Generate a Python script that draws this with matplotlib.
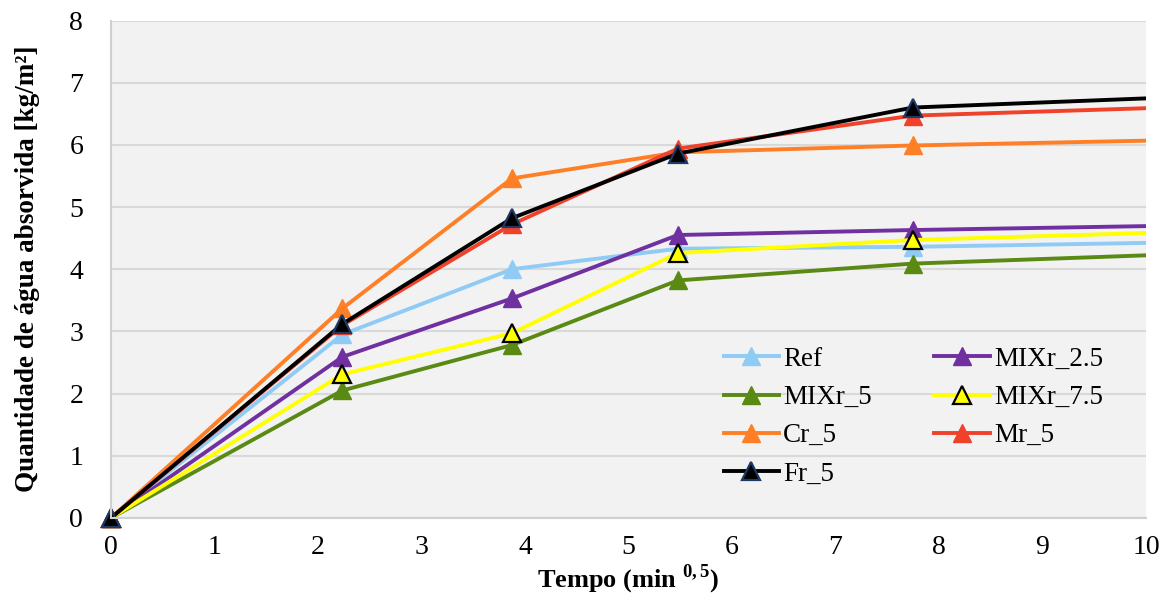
import numpy as np
import matplotlib
matplotlib.use("Agg")
import matplotlib.pyplot as plt
from matplotlib.patches import Rectangle

plt.rcParams['font.family'] = ['Liberation Serif', 'DejaVu Serif']
plt.rcParams['mathtext.fontset'] = 'custom'
plt.rcParams['mathtext.rm'] = 'Liberation Serif'
plt.rcParams['mathtext.bf'] = 'Liberation Serif:bold'

# time axis: sqrt of minutes (5, 15, 30, 60, 120 min)
tempo = [0, 2.236, 3.873, 5.477, 7.746, 10.954]

ref = [0, 2.95, 4.00, 4.33, 4.36, 4.45]
mix_25 = [0, 2.59, 3.53, 4.55, 4.63, 4.72]
mix_5 = [0, 2.05, 2.78, 3.82, 4.09, 4.28]
mix_75 = [0, 2.31, 2.97, 4.26, 4.47, 4.63]
cr_5 = [0, 3.37, 5.46, 5.88, 5.99, 6.10]
mr_5 = [0, 3.10, 4.72, 5.94, 6.47, 6.64]
fr_5 = [0, 3.12, 4.82, 5.86, 6.60, 6.81]

fig = plt.figure(figsize=(11.65, 5.96), dpi=100)
ax = fig.add_axes([0.0953, 0.131, 0.8884, 0.8346])
ax.set_facecolor('#f2f2f2')

lw = 2.8
ms = 13
h = {}
h['Ref'], = ax.plot(tempo, ref, color='#8fcbf5', lw=lw, marker='^', ms=ms)
h['MIXr_2.5'], = ax.plot(tempo, mix_25, color='#7030a0', lw=lw, marker='^', ms=ms)
h['MIXr_5'], = ax.plot(tempo, mix_5, color='#5a8a14', lw=lw, marker='^', ms=ms)
h['MIXr_7.5'], = ax.plot(tempo, mix_75, color='#ffff00', lw=lw, marker='^', ms=ms,
                          mfc='#ffff00', mec='black', mew=1.6)
h['Cr_5'], = ax.plot(tempo, cr_5, color='#ff7f27', lw=lw, marker='^', ms=ms)
h['Mr_5'], = ax.plot(tempo, mr_5, color='#f0412a', lw=lw, marker='^', ms=ms)
h['Fr_5'], = ax.plot(tempo, fr_5, color='black', lw=lw, marker='^', ms=ms,
                      mfc='black', mec='#1f3864', mew=1.6)

# clip only on the right/top so the markers at the origin stay visible
clip = Rectangle((-0.05, -0.05), 1.05, 1.05, transform=ax.transAxes,
                 facecolor='none', edgecolor='none')
ax.add_patch(clip)
for line in h.values():
    line.set_clip_path(clip)

ax.set_xlim(0, 10)
ax.set_ylim(0, 8)
ax.set_xticks(range(0, 11))
ax.set_yticks(range(0, 9))
ax.grid(axis='y', color='#d9d9d9', lw=1.5)
ax.set_axisbelow(True)
for s in ['top', 'right']:
    ax.spines[s].set_visible(False)
ax.spines['left'].set_color('#d0d0d0')
ax.spines['bottom'].set_color('#d0d0d0')
ax.spines['left'].set_linewidth(1.5)
ax.spines['bottom'].set_linewidth(1.5)
ax.tick_params(length=0, labelsize=20, pad=12)
ax.tick_params(axis='y', pad=20)

ax.set_xlabel('Tempo (min $^{\\mathbf{0,5}}$)', fontsize=19, fontweight='bold', labelpad=2)
ax.set_ylabel('Quantidade de água absorvida [kg/m²]', fontsize=19.5, fontweight='bold', labelpad=21)

order = ['Ref', 'MIXr_5', 'Cr_5', 'Fr_5', 'MIXr_2.5', 'MIXr_7.5', 'Mr_5']
ax.legend([h[k] for k in order], order, ncol=2, frameon=False, fontsize=19.5,
          loc='upper left', bbox_to_anchor=(0.592, 0.344), borderaxespad=0, borderpad=0,
          handlelength=2.05, handletextpad=0.15, columnspacing=2.3, labelspacing=0.49)

fig.savefig('out.png', dpi=100)
